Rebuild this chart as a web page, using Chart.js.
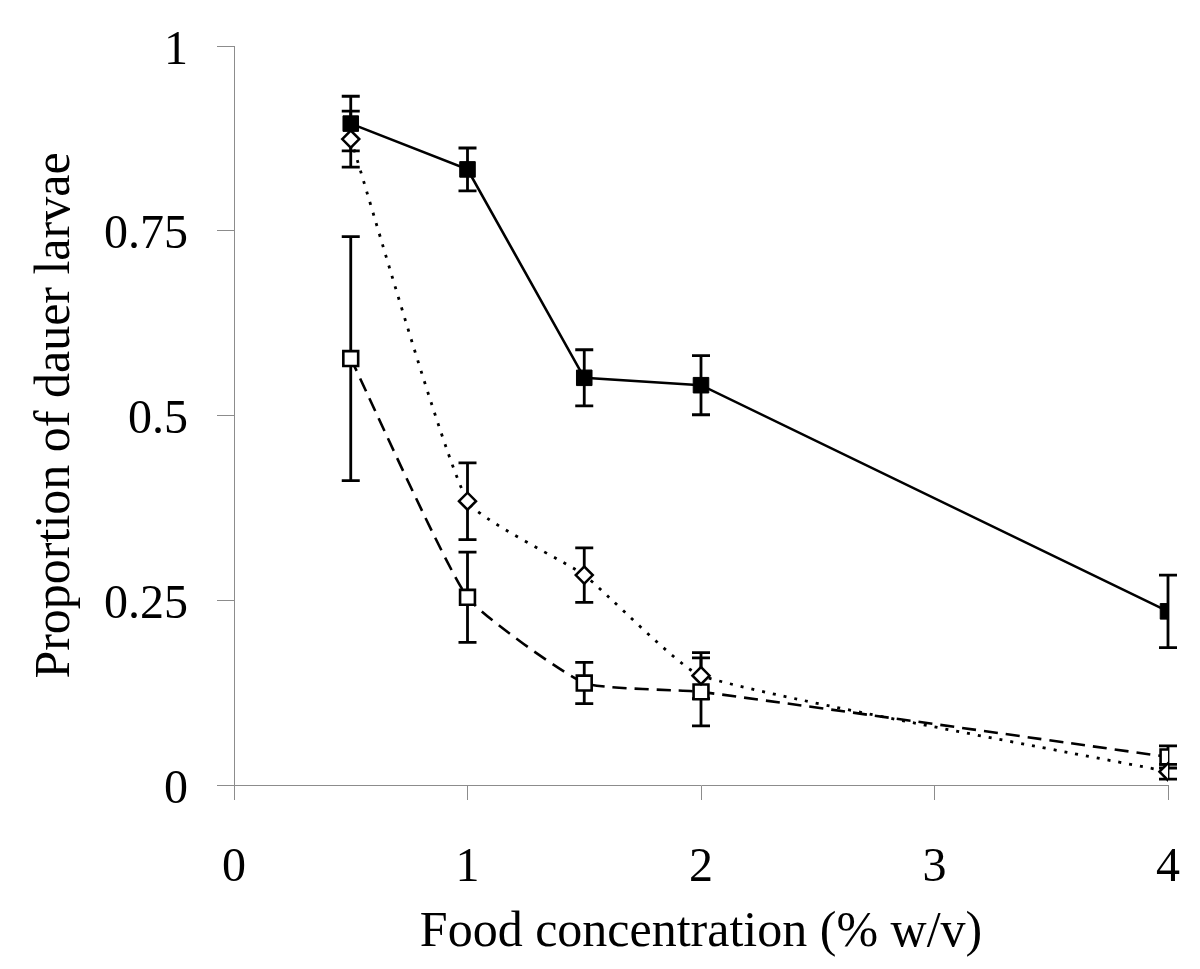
<!DOCTYPE html>
<html>
<head>
<meta charset="utf-8">
<script src="https://cdn.jsdelivr.net/npm/chart.js@4/dist/chart.umd.min.js"></script>
<style>
  html, body { margin: 0; padding: 0; background: #fff; }
  #wrap { width: 1200px; height: 969px; }
</style>
</head>
<body>
<div id="wrap"><canvas id="chart" width="1200" height="969"></canvas></div>
<script>
// food concentration (% w/v)
const concentration = [0.5, 1, 1.5, 2, 4];

// filled squares, solid line
const filledMean = [0.895, 0.833, 0.551, 0.541, 0.235];
const filledErr  = [0.037, 0.029, 0.038, 0.040, 0.049];

// open diamonds, dotted line
const diamondMean = [0.874, 0.384, 0.284, 0.148, 0.018];
const diamondErr  = [0.038, 0.052, 0.037, 0.031, 0.010];

// open squares, dashed line
const openMean = [0.577, 0.254, 0.138, 0.126, 0.038];
const openErr  = [0.165, 0.061, 0.028, 0.046, 0.015];

const xTicks = [0, 1, 2, 3, 4];
const yTicks = [0, 0.25, 0.5, 0.75, 1];

const FONT = "'Liberation Serif', 'Times New Roman', serif";
const AXIS_GREY = "#8c8c8c";

function pts(xs, ys) {
  return xs.map((x, i) => ({ x: x, y: ys[i] }));
}

// vertical error bars with caps, drawn under the markers
const errorBars = {
  id: "errorBars",
  beforeDatasetsDraw(chart) {
    const { ctx, scales: { x, y } } = chart;
    ctx.save();
    ctx.strokeStyle = "#000";
    ctx.lineWidth = 2.8;
    chart.data.datasets.forEach((ds) => {
      if (!ds.errors) return;
      ds.data.forEach((p, i) => {
        const e = ds.errors[i];
        const px = x.getPixelForValue(p.x);
        const top = y.getPixelForValue(p.y + e);
        const bot = y.getPixelForValue(p.y - e);
        ctx.beginPath();
        ctx.moveTo(px, top); ctx.lineTo(px, bot);
        ctx.moveTo(px - 9, top); ctx.lineTo(px + 9, top);
        ctx.moveTo(px - 9, bot); ctx.lineTo(px + 9, bot);
        ctx.stroke();
      });
    });
    ctx.restore();
  }
};

new Chart(document.getElementById("chart"), {
  type: "line",
  data: {
    datasets: [
      {
        label: "filled",
        data: pts(concentration, filledMean),
        errors: filledErr,
        borderColor: "#000",
        borderWidth: 2.6,
        tension: 0,
        pointStyle: "rect",
        pointRadius: 11,
        pointBackgroundColor: "#000",
        pointBorderColor: "#000",
        pointBorderWidth: 1
      },
      {
        label: "diamond",
        data: pts(concentration, diamondMean),
        errors: diamondErr,
        borderColor: "#000",
        borderWidth: 2.8,
        borderDash: [3, 8],
        tension: 0.15,
        pointStyle: "rectRot",
        pointRadius: 8.5,
        pointBackgroundColor: "#fff",
        pointBorderColor: "#000",
        pointBorderWidth: 2.5
      },
      {
        label: "open",
        data: pts(concentration, openMean),
        errors: openErr,
        borderColor: "#000",
        borderWidth: 2.6,
        borderDash: [14, 8],
        tension: 0.15,
        pointStyle: "rect",
        pointRadius: 10.5,
        pointBackgroundColor: "#fff",
        pointBorderColor: "#000",
        pointBorderWidth: 2.6
      }
    ]
  },
  options: {
    responsive: false,
    animation: false,
    layout: { padding: { top: 46, right: 32, bottom: 0, left: 0 } },
    plugins: {
      legend: { display: false },
      tooltip: { enabled: false }
    },
    scales: {
      x: {
        type: "linear",
        min: 0,
        max: 4,
        afterFit: (s) => { s.height = 184; s.paddingLeft = 0; s.paddingRight = 0; },
        afterBuildTicks: (s) => { s.ticks = xTicks.map(v => ({ value: v })); },
        grid: { drawOnChartArea: false, drawTicks: true, tickLength: 15, color: AXIS_GREY, lineWidth: 1 },
        border: { display: true, color: AXIS_GREY, width: 1 },
        ticks: { color: "#000", padding: 40, font: { family: FONT, size: 48 }, callback: (v) => String(v) },
        title: {
          display: true,
          text: "Food concentration (% w/v)",
          color: "#000",
          font: { family: FONT, size: 50 },
          padding: { top: 0, bottom: 6 }
        }
      },
      y: {
        type: "linear",
        min: 0,
        max: 1,
        afterFit: (s) => { s.width = 234; s.paddingTop = 0; s.paddingBottom = 0; },
        afterBuildTicks: (s) => { s.ticks = yTicks.map(v => ({ value: v })); },
        grid: { drawOnChartArea: false, drawTicks: true, tickLength: 17, color: AXIS_GREY, lineWidth: 1 },
        border: { display: true, color: AXIS_GREY, width: 1 },
        ticks: { color: "#000", padding: 29, labelOffset: 5, font: { family: FONT, size: 48 }, callback: (v) => String(v) },
        title: {
          display: true,
          text: "Proportion of dauer larvae",
          color: "#000",
          font: { family: FONT, size: 50 },
          padding: { top: 26, bottom: 0 }
        }
      }
    }
  },
  plugins: [errorBars]
});
</script>
</body>
</html>
